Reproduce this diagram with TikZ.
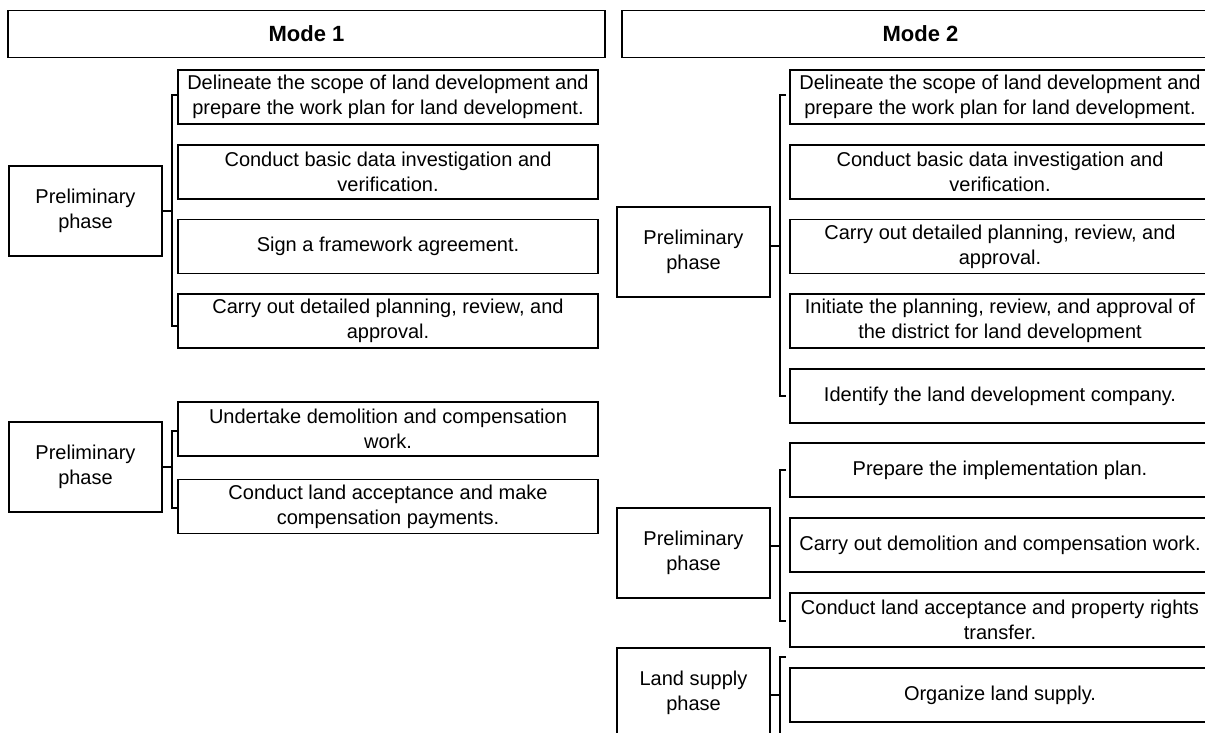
\documentclass[tikz,border=0pt]{standalone}
\usepackage{fontspec}
\setmainfont{Liberation Sans}
\begin{document}
\begin{tikzpicture}[x=1pt,y=-1pt,
  box/.style={draw=black, line width=1.4pt, inner sep=0pt, align=center,
              font=\fontsize{20}{25}\selectfont},
  head/.style={box, minimum width=597pt, minimum height=47pt,
               font=\fontsize{22}{25}\selectfont\bfseries},
  task/.style={box, minimum width=420pt, minimum height=54pt},
  phase/.style={box, minimum width=153pt, minimum height=90pt},
  brace/.style={draw=black, line width=1.2pt}
]
\useasboundingbox (0,0) rectangle (1205,733);
\clip (0,0) rectangle (1205,733);

% column headings
\node[head] (m1) at (306.5,34) {Mode 1};
\node[head] (m2) at (920.5,34) {Mode 2};

% ---------- Mode 1 ----------
\node[task] (a1) at (388,97)    {Delineate the scope of land development and\\prepare the work plan for land development.};
\node[task] (a2) at (388,172)   {Conduct basic data investigation and\\verification.};
\node[task] (a3) at (388,246.5) {Sign a framework agreement.};
\node[task] (a4) at (388,321)   {Carry out detailed planning, review, and\\approval.};
\node[phase] (p1) at (85.5,211) {Preliminary\\phase};

\coordinate (b1t) at (178,95);
\coordinate (b1b) at (178,326);
\coordinate (b1)  at (172,211);
\draw[brace] (b1t) -- ++(-6,0) |- (b1b);
\draw[brace] (p1.east) -- (b1);

\node[task] (a5) at (388,429)   {Undertake demolition and compensation\\work.};
\node[task] (a6) at (388,506.5) {Conduct land acceptance and make\\compensation payments.};
\node[phase] (p2) at (85.5,467) {Preliminary\\phase};

\coordinate (b2t) at (178,431);
\coordinate (b2b) at (178,508);
\coordinate (b2)  at (172,467);
\draw[brace] (b2t) -- ++(-6,0) |- (b2b);
\draw[brace] (p2.east) -- (b2);

% ---------- Mode 2 ----------
\node[task] (c1) at (1000,97)    {Delineate the scope of land development and\\prepare the work plan for land development.};
\node[task] (c2) at (1000,172)   {Conduct basic data investigation and\\verification.};
\node[task] (c3) at (1000,246.5) {Carry out detailed planning, review, and\\approval.};
\node[task] (c4) at (1000,321)   {Initiate the planning, review, and approval of\\the district for land development};
\node[task] (c5) at (1000,396)   {Identify the land development company.};
\node[phase] (p3) at (693.5,252) {Preliminary\\phase};

\coordinate (b3t) at (786,95);
\coordinate (b3b) at (786,396);
\coordinate (b3)  at (780,246);
\draw[brace] (b3t) -- ++(-6,0) |- (b3b);
\draw[brace] (p3.east |- b3) -- (b3);

\node[task] (d1) at (1000,470) {Prepare the implementation plan.};
\node[task] (d2) at (1000,545) {Carry out demolition and compensation work.};
\node[task] (d3) at (1000,620) {Conduct land acceptance and property rights\\transfer.};
\node[phase] (p4) at (693.5,553) {Preliminary\\phase};

\coordinate (b4t) at (786,470);
\coordinate (b4b) at (786,621);
\coordinate (b4)  at (780,546);
\draw[brace] (b4t) -- ++(-6,0) |- (b4b);
\draw[brace] (p4.east |- b4) -- (b4);

\node[task] (d4) at (1000,695) {Organize land supply.};
\node[phase] (p5) at (693.5,693) {Land supply\\phase};

\coordinate (b5t) at (786,657);
\coordinate (b5b) at (786,760);
\coordinate (b5)  at (780,695);
\draw[brace] (b5t) -- ++(-6,0) |- (b5b);
\draw[brace] (p5.east |- b5) -- (b5);
\end{tikzpicture}
\end{document}
